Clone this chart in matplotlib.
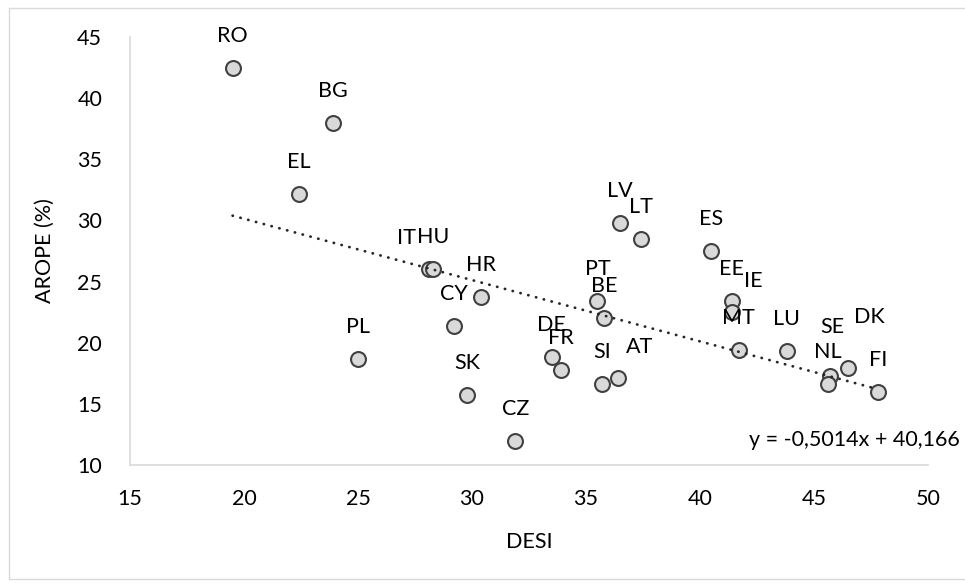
import matplotlib
matplotlib.use("Agg")
import matplotlib.pyplot as plt
from matplotlib.patches import Rectangle
import numpy as np

# ─── DATA ──────────────────────────────────────────────────────────────────────
countries = ["RO", "BG", "EL", "IT", "HU", "HR", "CY", "PL", "SK", "CZ",
             "DE", "FR", "PT", "BE", "SI", "AT", "LV", "LT", "ES", "EE",
             "IE", "MT", "LU", "SE", "NL", "DK", "FI"]
desi = [19.5, 23.9, 22.4, 28.1, 28.3, 30.4, 29.2, 25.0, 29.8, 31.9,
        33.5, 33.9, 35.5, 35.8, 35.7, 36.4, 36.5, 37.4, 40.5, 41.4,
        41.4, 41.7, 43.8, 45.7, 45.6, 46.5, 47.8]
arope = [42.5, 38.0, 32.2, 26.0, 26.0, 23.7, 21.4, 18.7, 15.7, 12.0,
         18.8, 17.8, 23.4, 22.0, 16.6, 17.1, 29.8, 28.5, 27.5, 23.4,
         22.5, 19.4, 19.3, 17.3, 16.6, 17.9, 16.0]

slope, intercept = -0.5014, 40.166
x_ticks = [15, 20, 25, 30, 35, 40, 45, 50]
y_ticks = [10, 15, 20, 25, 30, 35, 40, 45]

# label offsets in pixels (default: centred above the marker)
DEFAULT_OFFSET = (0, 32)
label_offsets = {"IT": (-22, 31), "AT": (22, 31), "IE": (21, 31),
                 "SE": (2, 49), "DK": (21, 51)}

FONT = "Lato"
FS = 15.5
TEXT_COLOR = "#000000"

# ─── FIGURE ────────────────────────────────────────────────────────────────────
fig = plt.figure(figsize=(9.65, 5.83), dpi=100)
W, H = 965, 583
ax = fig.add_axes([130 / W, 1 - 465 / H, (928 - 130) / W, (465 - 37) / H])

# chart frame
fig.patches.append(Rectangle((9 / W, 1 - 579 / H), 970 / W, (579 - 8) / H,
                             transform=fig.transFigure, fill=False,
                             edgecolor="#d9d9d9", linewidth=1.0))

# trendline
xs = np.array([min(desi), max(desi)])
ax.plot(xs, slope * xs + intercept, color="#262626", linewidth=2.0,
        linestyle=(0, (0.1, 2.8)), dash_capstyle="round", zorder=3)

ax.scatter(desi, arope, s=115, facecolor="#d9d9d9", edgecolor="#404040",
           linewidth=1.5, zorder=2)

for c, x, y in zip(countries, desi, arope):
    dx, dy = label_offsets.get(c, DEFAULT_OFFSET)
    ax.annotate(c, (x, y), xytext=(dx, dy), textcoords="offset pixels",
                ha="center", va="center", fontsize=FS, family=FONT,
                color=TEXT_COLOR)

ax.text(0.908, 0.058, "y = -0,5014x + 40,166", transform=ax.transAxes,
        ha="center", va="center", fontsize=FS, family=FONT, color=TEXT_COLOR)

ax.set_xlim(15, 50)
ax.set_ylim(10, 45)
ax.set_xticks(x_ticks)
ax.set_yticks(y_ticks)
ax.tick_params(length=0, labelsize=FS, labelcolor=TEXT_COLOR)
ax.tick_params(axis="x", pad=17)
ax.tick_params(axis="y", pad=20)
for lbl in ax.get_xticklabels() + ax.get_yticklabels():
    lbl.set_family(FONT)

for side in ["top", "right"]:
    ax.spines[side].set_visible(False)
for side in ["left", "bottom"]:
    ax.spines[side].set_color("#d9d9d9")
    ax.spines[side].set_linewidth(1.2)

ax.set_xlabel("DESI", fontsize=FS, family=FONT, color=TEXT_COLOR, labelpad=17)
ax.set_ylabel("AROPE (%)", fontsize=FS, family=FONT, color=TEXT_COLOR, labelpad=16)

fig.savefig("out.png", dpi=100)
